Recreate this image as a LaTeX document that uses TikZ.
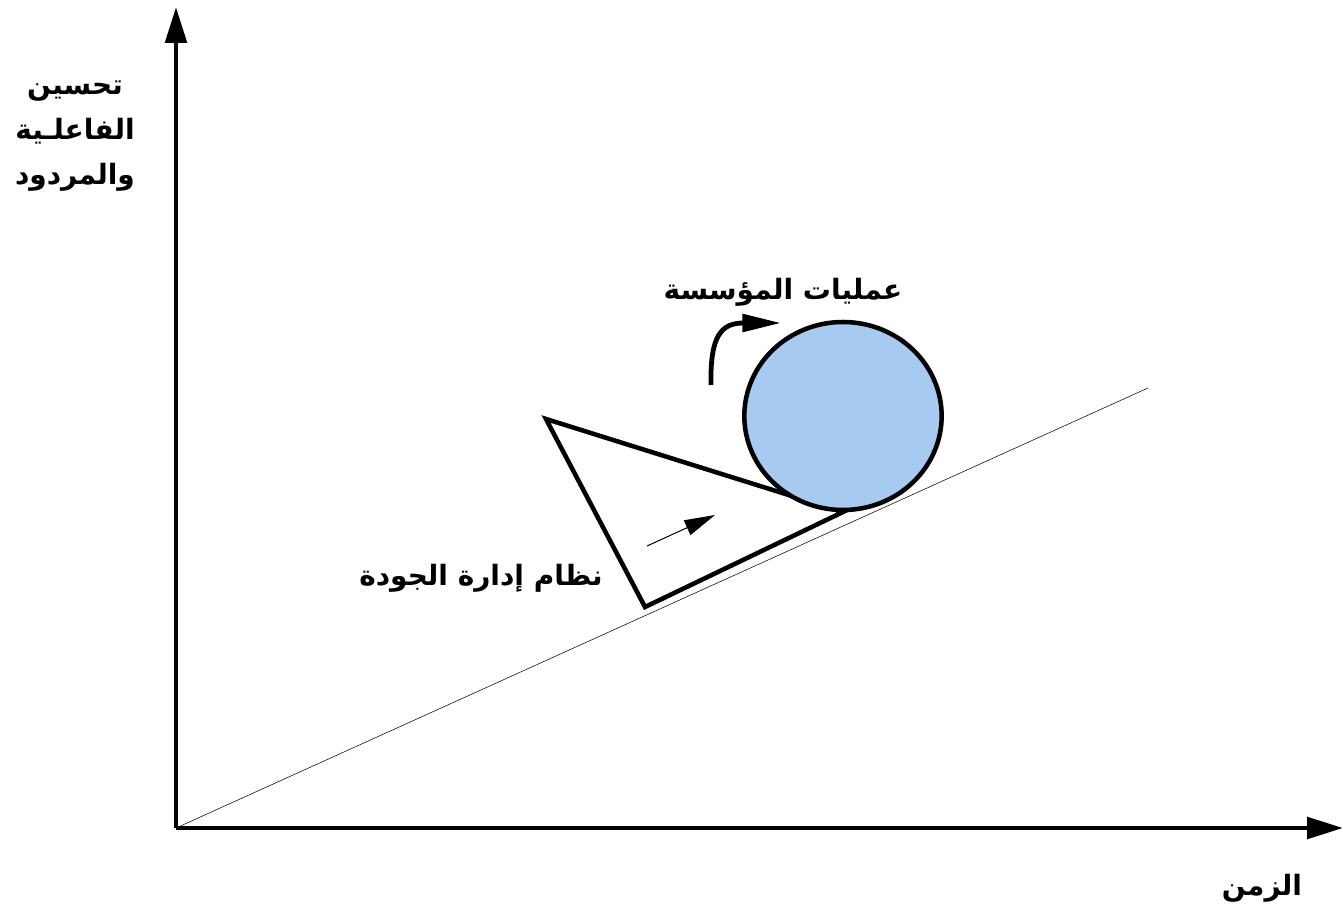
\documentclass[tikz,border=0pt]{standalone}
\usepackage{fontspec}
\usetikzlibrary{arrows.meta, shapes.geometric}
\TeXXeTstate=1
\newfontfamily\arabicfont[Script=Arabic]{DejaVu Sans}
\definecolor{ballblue}{RGB}{166,202,240}

\tikzset{
  axis/.style={line width=3.4pt, -{Triangle[length=27pt, width=16pt]}},
  label/.style={font=\arabicfont\bfseries\fontsize{21}{26}\selectfont, inner sep=0pt},
  wedge/.style={line width=3.4pt, fill=white, line join=miter},
}

\begin{document}
\begin{tikzpicture}[x=0.75pt, y=-0.75pt]
\useasboundingbox (0,0) rectangle (1343,913);

\coordinate (o) at (176,828);
\coordinate (ytop) at (176,7);
\coordinate (xend) at (1343,828);
\coordinate (slope) at (1148,388);

\draw[line width=0.4pt] (o) -- (slope);
\draw[axis] (o) -- (ytop);
\draw[axis] (o) -- (xend);

% the wedge
\coordinate (wa) at (546,419);
\coordinate (wb) at (843,512);
\coordinate (wc) at (645,607);
\draw[wedge] (wa) -- (wb) -- (wc) -- cycle;

\node[draw, ellipse, line width=3.4pt, fill=ballblue, minimum width=148pt, minimum height=141pt, inner sep=0pt] (ball) at (843,416) {};

\coordinate (pa) at (647,546);
\coordinate (pb) at (715,515);
\draw[line width=0.75pt, -{Triangle[length=23pt, width=12pt]}] (pa) -- (pb);

\coordinate (ra) at (711,385);
\coordinate (rb) at (781,323);
\draw[line width=3.6pt, -{Triangle[length=29pt, width=13pt]}] (ra) .. controls (710,336) and (721,323) .. (rb);

\node[label, align=center] (ylab) at (75,136) {\beginR تحسين\endR\\[8pt]\beginR الفاعلـية\endR\\[8pt]\beginR والمردود\endR};
\node[label] (ops) at (783,292) {\beginR عمليات المؤسسة\endR};
\node[label] (qms) at (481,578) {\beginR نظام إدارة الجودة\endR};
\node[label] (time) at (1262,888) {\beginR الزمن\endR};
\end{tikzpicture}
\end{document}
